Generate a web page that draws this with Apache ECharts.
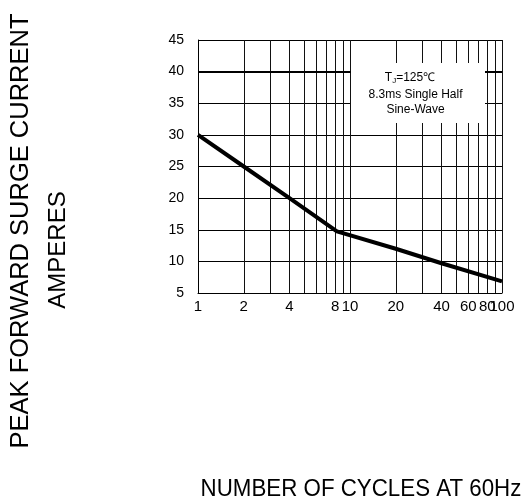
<!DOCTYPE html>
<html><head><meta charset="utf-8">
<script src="https://cdn.jsdelivr.net/npm/echarts@6/dist/echarts.min.js"></script>
<style>html,body{margin:0;padding:0;background:#fff}#c{width:523px;height:503px}</style>
</head><body><div id="c"></div>
<script>
// Data
const cycles = [1, 2, 4, 8.2, 20, 40, 100];
const surgeAmps = [30, 25, 20, 14.75, 12, 9.7, 6.85];
// Axis grid / tick definitions
const xGridValues = [1,2,3,4,5,6,7,8,9,10,20,30,40,50,60,70,80,90,100];
const xTickLabels = [1,2,4,8,10,20,40,60,80];
const xEndLabel = [100];
const yMin = 5, yMax = 45, yStep = 5;
const boldLevel = 40;
const noteLines = ['8.3ms Single Half', 'Sine-Wave'];
const yTitle1 = 'PEAK FORWARD SURGE CURRENT';
const yTitle2 = 'AMPERES';
const xTitle = 'NUMBER OF CYCLES AT 60Hz';

const FONT = 'Liberation Sans, Arial, Helvetica, sans-serif';
const chart = echarts.init(document.getElementById('c'), null, {renderer: 'canvas'});
const lg = v => Math.log10(v);
const labelFmt = v => String(Math.round(Math.pow(10, v)));

chart.setOption({
  backgroundColor: '#fff',
  animation: false,
  grid: {left: 198, right: 21, top: 40, bottom: 210, containLabel: false},
  xAxis: [
    {type: 'log', logBase: 10, min: 1, max: 100, show: false},
    {type: 'value', min: 0, max: 2, position: 'bottom',
     axisLine: {show: true, onZero: false, lineStyle: {color: '#000', width: 1}},
     axisTick: {show: false, customValues: xGridValues.map(lg)},
     splitLine: {show: true, lineStyle: {color: '#111', width: 1}},
     axisLabel: {customValues: xTickLabels.map(lg), color: '#000', fontSize: 15, fontFamily: FONT, margin: 6,
       hideOverlap: false, formatter: labelFmt}
    },
    {type: 'value', min: 0, max: 2, position: 'bottom', offset: 0,
     axisLine: {show: false}, axisTick: {show: false}, splitLine: {show: false},
     axisLabel: {customValues: xEndLabel.map(lg), showMaxLabel: true, color: '#000', fontSize: 15,
       fontFamily: FONT, margin: 6, formatter: labelFmt}
    }
  ],
  yAxis: {
    type: 'value', min: yMin, max: yMax, interval: yStep,
    axisLine: {show: true, lineStyle: {color: '#000', width: 1}},
    axisTick: {show: false},
    splitLine: {show: true, lineStyle: {color: '#000', width: 1}},
    axisLabel: {color: '#000', fontSize: 14, fontFamily: FONT, margin: 14}
  },
  series: [{
    type: 'line', xAxisIndex: 0,
    data: cycles.map((c, i) => [c, surgeAmps[i]]),
    symbol: 'none', lineStyle: {color: '#000', width: 4}, z: 5,
    markLine: {silent: true, symbol: 'none', label: {show: false},
      lineStyle: {color: '#000', width: 2, type: 'solid'},
      data: [{yAxis: boldLevel}]}
  }],
  graphic: [
    {type: 'rect', z: 50, shape: {x: 351, y: 63, width: 134, height: 60}, style: {fill: '#fff'}},
    {type: 'text', z: 51, x: 410, y: 78, style: {
      text: '{t|T}{s|J}{t|=125℃}', align: 'center', verticalAlign: 'middle', fill: '#000',
      rich: {t: {fontSize: 12, fontFamily: FONT, fill: '#000', lineHeight: 14},
             s: {fontSize: 8, fontFamily: FONT, fill: '#000', verticalAlign: 'bottom', lineHeight: 11}}}},
    {type: 'text', z: 51, x: 415.5, y: 94.5, style: {text: noteLines[0], fontSize: 12, fontFamily: FONT,
      fill: '#000', align: 'center', verticalAlign: 'middle'}},
    {type: 'text', z: 51, x: 415.5, y: 110, style: {text: noteLines[1], fontSize: 12, fontFamily: FONT,
      fill: '#000', align: 'center', verticalAlign: 'middle'}},
    {type: 'text', z: 51, x: 21, y: 231, rotation: Math.PI / 2, style: {text: yTitle1, fontSize: 25.5,
      fontFamily: FONT, fill: '#000', align: 'center', verticalAlign: 'middle'}},
    {type: 'text', z: 51, x: 58, y: 250, rotation: Math.PI / 2, style: {text: yTitle2, fontSize: 24,
      fontFamily: FONT, fill: '#000', align: 'center', verticalAlign: 'middle'}},
    {type: 'text', z: 51, x: 361, y: 489, scaleX: 0.93, style: {text: xTitle, fontSize: 24,
      fontFamily: FONT, fill: '#000', align: 'center', verticalAlign: 'middle'}}
  ]
});
</script></body></html>
